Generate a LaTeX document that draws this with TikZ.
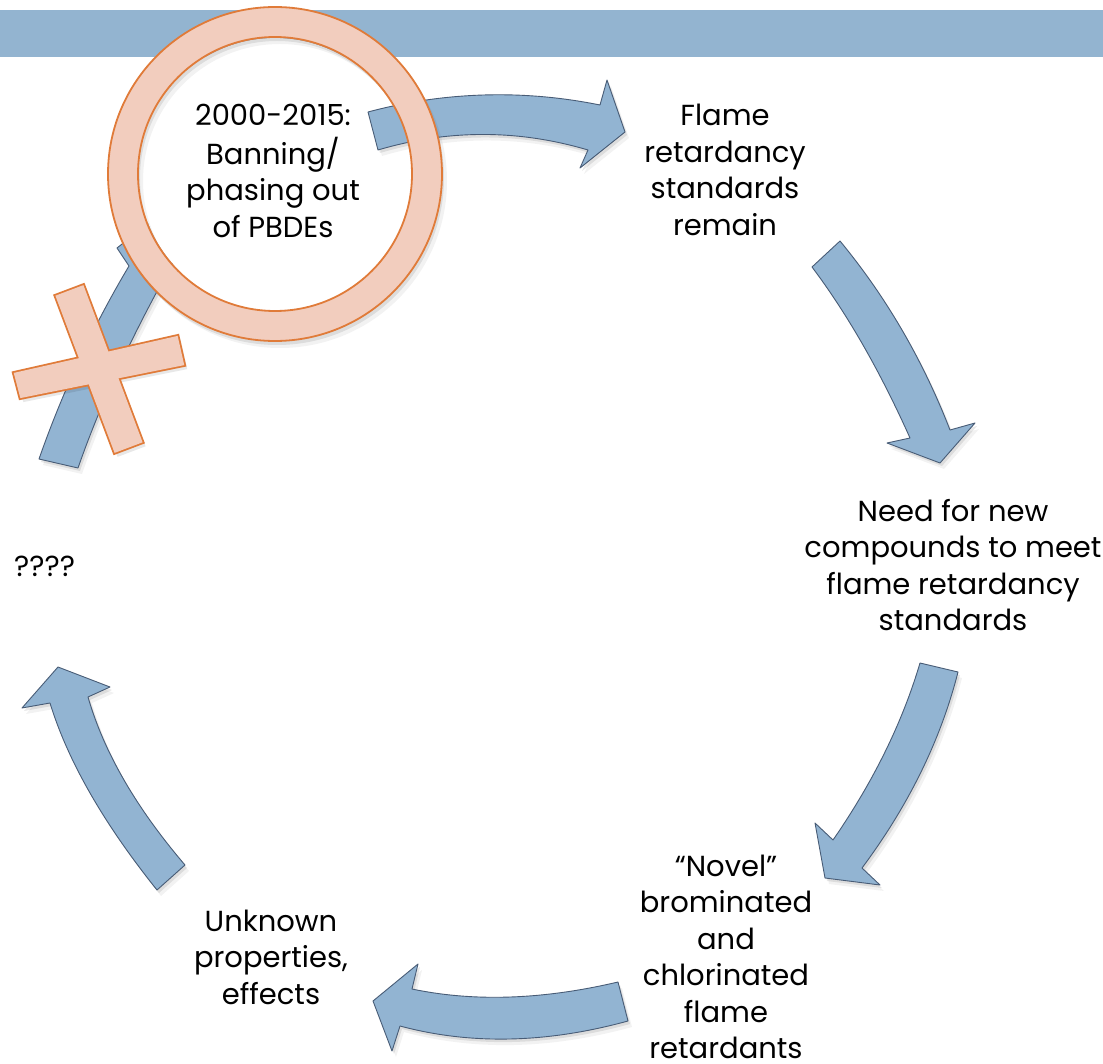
\documentclass[tikz,border=0pt]{standalone}
\usepackage{fontspec}
\setmainfont{Poppins}
\definecolor{barblue}{RGB}{147,180,208}
\definecolor{arrowfill}{RGB}{146,180,210}
\definecolor{arrowline}{RGB}{72,92,118}
\definecolor{ringfill}{RGB}{242,205,190}
\definecolor{ringline}{RGB}{224,123,57}
\newcommand\pathA{(368,112) .. controls (444,91.7) and (522.7,89.3) .. (600,105) -- (607,80) -- (625,132) -- (580,168) -- (588,150) .. controls (518,129.3) and (448,129.3) .. (378,150) -- cycle}
\newcommand\pathB{(840,241) .. controls (886,296.7) and (922.7,359.7) .. (950,430) -- (975,423) -- (940,463) -- (887,443) -- (910,438) .. controls (880,371) and (847.3,314) .. (812,267) -- cycle}
\newcommand\pathC{(958,672) .. controls (940.7,740) and (908.7,805.3) .. (862,868) -- (880,885) -- (825,878) -- (815,823) -- (833,840) .. controls (873.3,781.7) and (902.3,722.7) .. (920,663) -- cycle}
\newcommand\pathD{(618,982) .. controls (542.7,999.7) and (474,1002) .. (412,989) -- (418,964) -- (373,1001) -- (392,1051) -- (400,1026) .. controls (470.7,1045) and (546.7,1043.3) .. (628,1021) -- cycle}
\newcommand\pathE{(157,890) .. controls (103.3,823) and (67.7,760.7) .. (50,703) -- (22,708) -- (58,667) -- (110,687) -- (88,697) .. controls (103.7,751.7) and (136,807.7) .. (185,865) -- cycle}
\newcommand\pathF{(39,459) .. controls (61.3,395.3) and (91,329.7) .. (129,266) -- (117,248) -- (150,222) -- (176,258) -- (166,275) .. controls (130,340) and (100,405) .. (78,468) -- cycle}
\newcommand\barAp{(55.4,295.7) -- (83.4,285.1) -- (142.6,442.3) -- (114.6,452.9) -- cycle}
\newcommand\barBp{(13.75,372.9) -- (177.65,335.9) -- (184.25,365.1) -- (20.35,398.1) -- cycle}
\begin{document}
\begin{tikzpicture}[x=1pt,y=-1pt,
  blockarrow/.style={fill=arrowfill, draw=arrowline, line width=0.9pt, line join=round},
  softshade/.style={fill=black, opacity=0.09},
  softshade2/.style={fill=black, opacity=0.05},
  ringband/.style={fill=ringfill, draw=ringline, line width=1.8pt, even odd rule},
  cyctext/.style={inner sep=0pt, anchor=base, font=\fontsize{29}{36.5}\selectfont}]
\useasboundingbox (0,0) rectangle (1103,1064);
\fill[white] (0,0) rectangle (1103,1064);
% title bar
\fill[barblue] (0,10) rectangle (1103,57);
% arrows (shadows first)
\foreach \p in {\pathB,\pathC,\pathD,\pathE,\pathF} {
  \fill[softshade2, shift={(4,6)}] \p;
  \fill[softshade, shift={(2,3)}] \p;
}
\draw[blockarrow] \pathB;
\draw[blockarrow] \pathC;
\draw[blockarrow] \pathD;
\draw[blockarrow] \pathE;
\draw[blockarrow] \pathF;
% inner white disc of the ring
\fill[white] (275,174) circle (136);
% top arrow
\fill[softshade2, shift={(4,6)}] \pathA;
\fill[softshade, shift={(2,3)}] \pathA;
\draw[blockarrow] \pathA;
% ring
\fill[softshade2, even odd rule, shift={(5,7)}] (275,174) circle (167) (275,174) circle (137);
\fill[softshade, even odd rule, shift={(2,4)}] (275,174) circle (167) (275,174) circle (137);
\draw[ringband] (275,174) circle (167) (275,174) circle (137);
% cross
\fill[softshade, shift={(3,4)}] \barAp;
\fill[softshade, shift={(3,4)}] \barBp;
\draw[ringline, line width=3.6pt] \barAp;
\draw[ringline, line width=3.6pt] \barBp;
\fill[ringfill] \barAp;
\fill[ringfill] \barBp;
% texts
\node[cyctext] (ban) at (273,126) {\begin{tabular}[t]{@{}c@{}}2000-2015:\\Banning/\\phasing out\\of PBDEs\end{tabular}};
\node[cyctext] (flame) at (725,126) {\begin{tabular}[t]{@{}c@{}}Flame\\retardancy\\standards\\remain\end{tabular}};
\node[cyctext] (need) at (953,521) {\begin{tabular}[t]{@{}c@{}}Need for new\\compounds to meet\\flame retardancy\\standards\end{tabular}};
\node[cyctext] (novel) at (726,876) {\begin{tabular}[t]{@{}c@{}}“Novel”\\brominated\\and\\chlorinated\\flame\\retardants\end{tabular}};
\node[cyctext] (unknown) at (271,931) {\begin{tabular}[t]{@{}c@{}}Unknown\\properties,\\effects\end{tabular}};
\node[cyctext, anchor=base west] (qq) at (14,576) {????};
\end{tikzpicture}
\end{document}
